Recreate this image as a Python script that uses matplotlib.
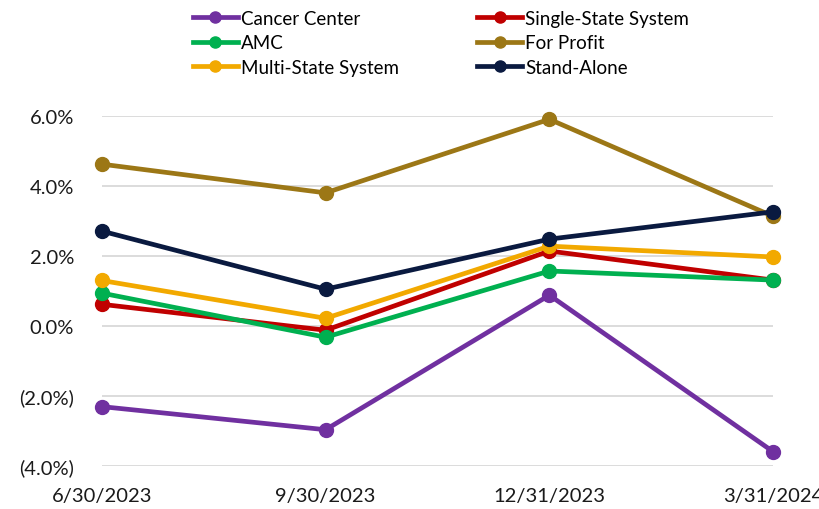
import matplotlib
matplotlib.use("Agg")
import matplotlib.pyplot as plt
from matplotlib.ticker import FuncFormatter
from matplotlib.lines import Line2D

plt.rcParams['font.family'] = ['Lato', 'DejaVu Sans']

# quarter labels
dates = ['6/30/2023', '9/30/2023', '12/31/2023', '3/31/2024']

# values in percent
cancer_center = [-2.30, -2.96, 0.88, -3.59]
single_state = [0.62, -0.12, 2.14, 1.31]
amc = [0.94, -0.32, 1.57, 1.31]
for_profit = [4.62, 3.80, 5.90, 3.13]
multi_state = [1.30, 0.22, 2.28, 1.97]
stand_alone = [2.71, 1.05, 2.48, 3.26]

series = [
    ('Cancer Center', cancer_center, '#7030A0'),
    ('Single-State System', single_state, '#C00000'),
    ('AMC', amc, '#00B050'),
    ('For Profit', for_profit, '#9C7716'),
    ('Multi-State System', multi_state, '#F2A900'),
    ('Stand-Alone', stand_alone, '#0A1A40'),
]

fig = plt.figure(figsize=(8.2, 5.1), dpi=100)
ax = fig.add_axes([0.124, 0.084, 0.819, 0.687])

x = list(range(len(dates)))
handles = {}
for name, vals, col in series:
    ln, = ax.plot(x, vals, color=col, lw=3.4, marker='o', ms=10,
                  clip_on=False, solid_capstyle='round')
    handles[name] = ln

ax.set_xlim(0, 3)
ax.set_ylim(-4, 6)
ax.set_yticks([-4, -2, 0, 2, 4, 6])


def fmt(v, pos):
    if v < 0:
        return '({:.1f}%)'.format(-v)
    return '{:.1f}%'.format(v)


ax.yaxis.set_major_formatter(FuncFormatter(fmt))
ax.set_xticks(x)
ax.set_xticklabels(dates)
ax.tick_params(axis='both', length=0, labelsize=14.5, colors='#1a1a1a')
ax.tick_params(axis='y', pad=20)
ax.tick_params(axis='x', pad=15)
ax.grid(axis='y', color='#D9D9D9', lw=1.3)
ax.set_axisbelow(True)
for s in ax.spines.values():
    s.set_visible(False)

# legend, column-major order
order = ['Cancer Center', 'AMC', 'Multi-State System',
         'Single-State System', 'For Profit', 'Stand-Alone']
leg_handles = [Line2D([0], [0], color=handles[n].get_color(), lw=3.4,
                      marker='o', ms=8) for n in order]
fig.legend(leg_handles, order, ncol=2, loc='upper left',
           bbox_to_anchor=(0.2146, 1.012), frameon=False, fontsize=13.5,
           handlelength=2.4, handletextpad=0.15, columnspacing=4.2,
           labelspacing=0.4)

fig.savefig('out.png', dpi=100)
